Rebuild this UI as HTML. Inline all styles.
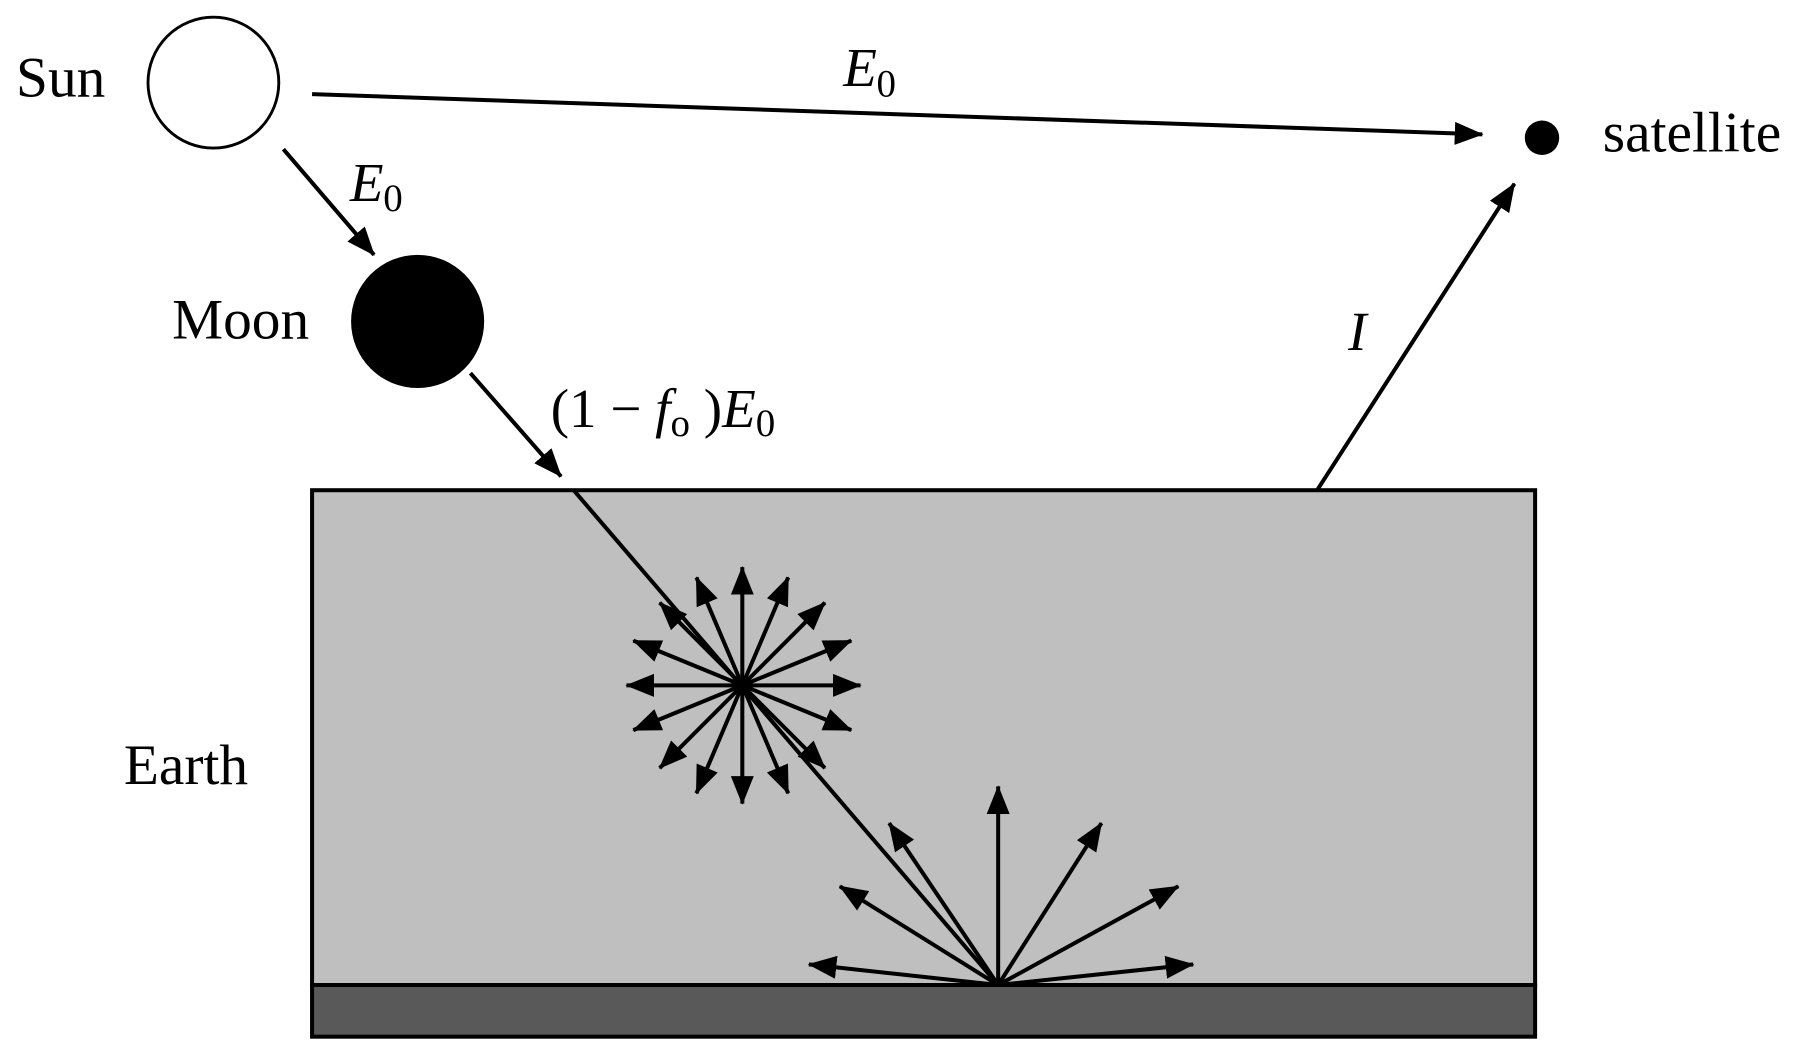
<!DOCTYPE html>
<html><head><meta charset="utf-8"><style>
html,body{margin:0;padding:0;background:#fff;}
svg{display:block;}
text{font-family:"Liberation Serif",serif;fill:#000;}
</style></head><body>
<svg width="1799" height="1057" viewBox="0 0 1568 920.7" preserveAspectRatio="none" xmlns="http://www.w3.org/2000/svg">
<defs>
<marker id="a" markerUnits="userSpaceOnUse" markerWidth="28" markerHeight="22" refX="24" refY="10" orient="auto">
<path d="M0,0 L25,10 L0,20 Z" fill="#000"/>
</marker>
</defs>
<rect x="272" y="427" width="1066" height="431" fill="#bfbfbf" stroke="#000" stroke-width="3.5"/>
<rect x="272" y="858" width="1066" height="45" fill="#595959" stroke="#000" stroke-width="3.5"/>
<circle cx="186" cy="72" r="57" fill="#fff" stroke="#000" stroke-width="2.5"/>
<text x="14" y="84" font-size="50">Sun</text>
<circle cx="1344" cy="120" r="15" fill="#000"/>
<text x="1397" y="132" font-size="50">satellite</text>
<circle cx="364" cy="280" r="58" fill="#000"/>
<text x="150" y="295" font-size="50">Moon</text>
<text x="108" y="683" font-size="50">Earth</text>
<g stroke="#000" stroke-width="3.5" fill="none">
<line x1="272" y1="82" x2="1292" y2="117" marker-end="url(#a)"/>
<line x1="247" y1="130" x2="326" y2="222" marker-end="url(#a)"/>
<line x1="410" y1="325" x2="489" y2="415" marker-end="url(#a)"/>
<line x1="500" y1="427" x2="870" y2="858"/>
<line x1="1148" y1="427" x2="1320" y2="160" marker-end="url(#a)"/>
<g marker-end="url(#a)">
<line x1="647" y1="597" x2="750" y2="597"/>
<line x1="647" y1="597" x2="742" y2="558"/>
<line x1="647" y1="597" x2="742" y2="636"/>
<line x1="647" y1="597" x2="719" y2="525"/>
<line x1="647" y1="597" x2="719" y2="669"/>
<line x1="647" y1="597" x2="687" y2="503"/>
<line x1="647" y1="597" x2="687" y2="691"/>
<line x1="647" y1="597" x2="647" y2="494"/>
<line x1="647" y1="597" x2="647" y2="700"/>
<line x1="647" y1="597" x2="607" y2="503"/>
<line x1="647" y1="597" x2="607" y2="691"/>
<line x1="647" y1="597" x2="575" y2="525"/>
<line x1="647" y1="597" x2="575" y2="669"/>
<line x1="647" y1="597" x2="552" y2="558"/>
<line x1="647" y1="597" x2="552" y2="636"/>
<line x1="647" y1="597" x2="546" y2="597"/>
</g>
<g marker-end="url(#a)">
<line x1="870" y1="858" x2="870" y2="685"/>
<line x1="870" y1="858" x2="960" y2="717"/>
<line x1="870" y1="858" x2="1027" y2="772"/>
<line x1="870" y1="858" x2="1040" y2="840"/>
<line x1="870" y1="858" x2="775" y2="717"/>
<line x1="870" y1="858" x2="732" y2="772"/>
<line x1="870" y1="858" x2="705" y2="840"/>
</g>
</g>
<text x="735" y="75" font-size="48" font-style="italic">E</text><text x="764" y="84" font-size="34">0</text>
<text x="305" y="175" font-size="48" font-style="italic">E</text><text x="334" y="184" font-size="34">0</text>
<text x="1175" y="305" font-size="48" font-style="italic">I</text>
<text x="480" y="372" font-size="48">(1 − <tspan font-style="italic">f</tspan><tspan font-size="34" dy="8">o</tspan><tspan dy="-8"> )</tspan><tspan font-style="italic">E</tspan><tspan font-size="34" dy="8">0</tspan></text>
</svg>
</body></html>
